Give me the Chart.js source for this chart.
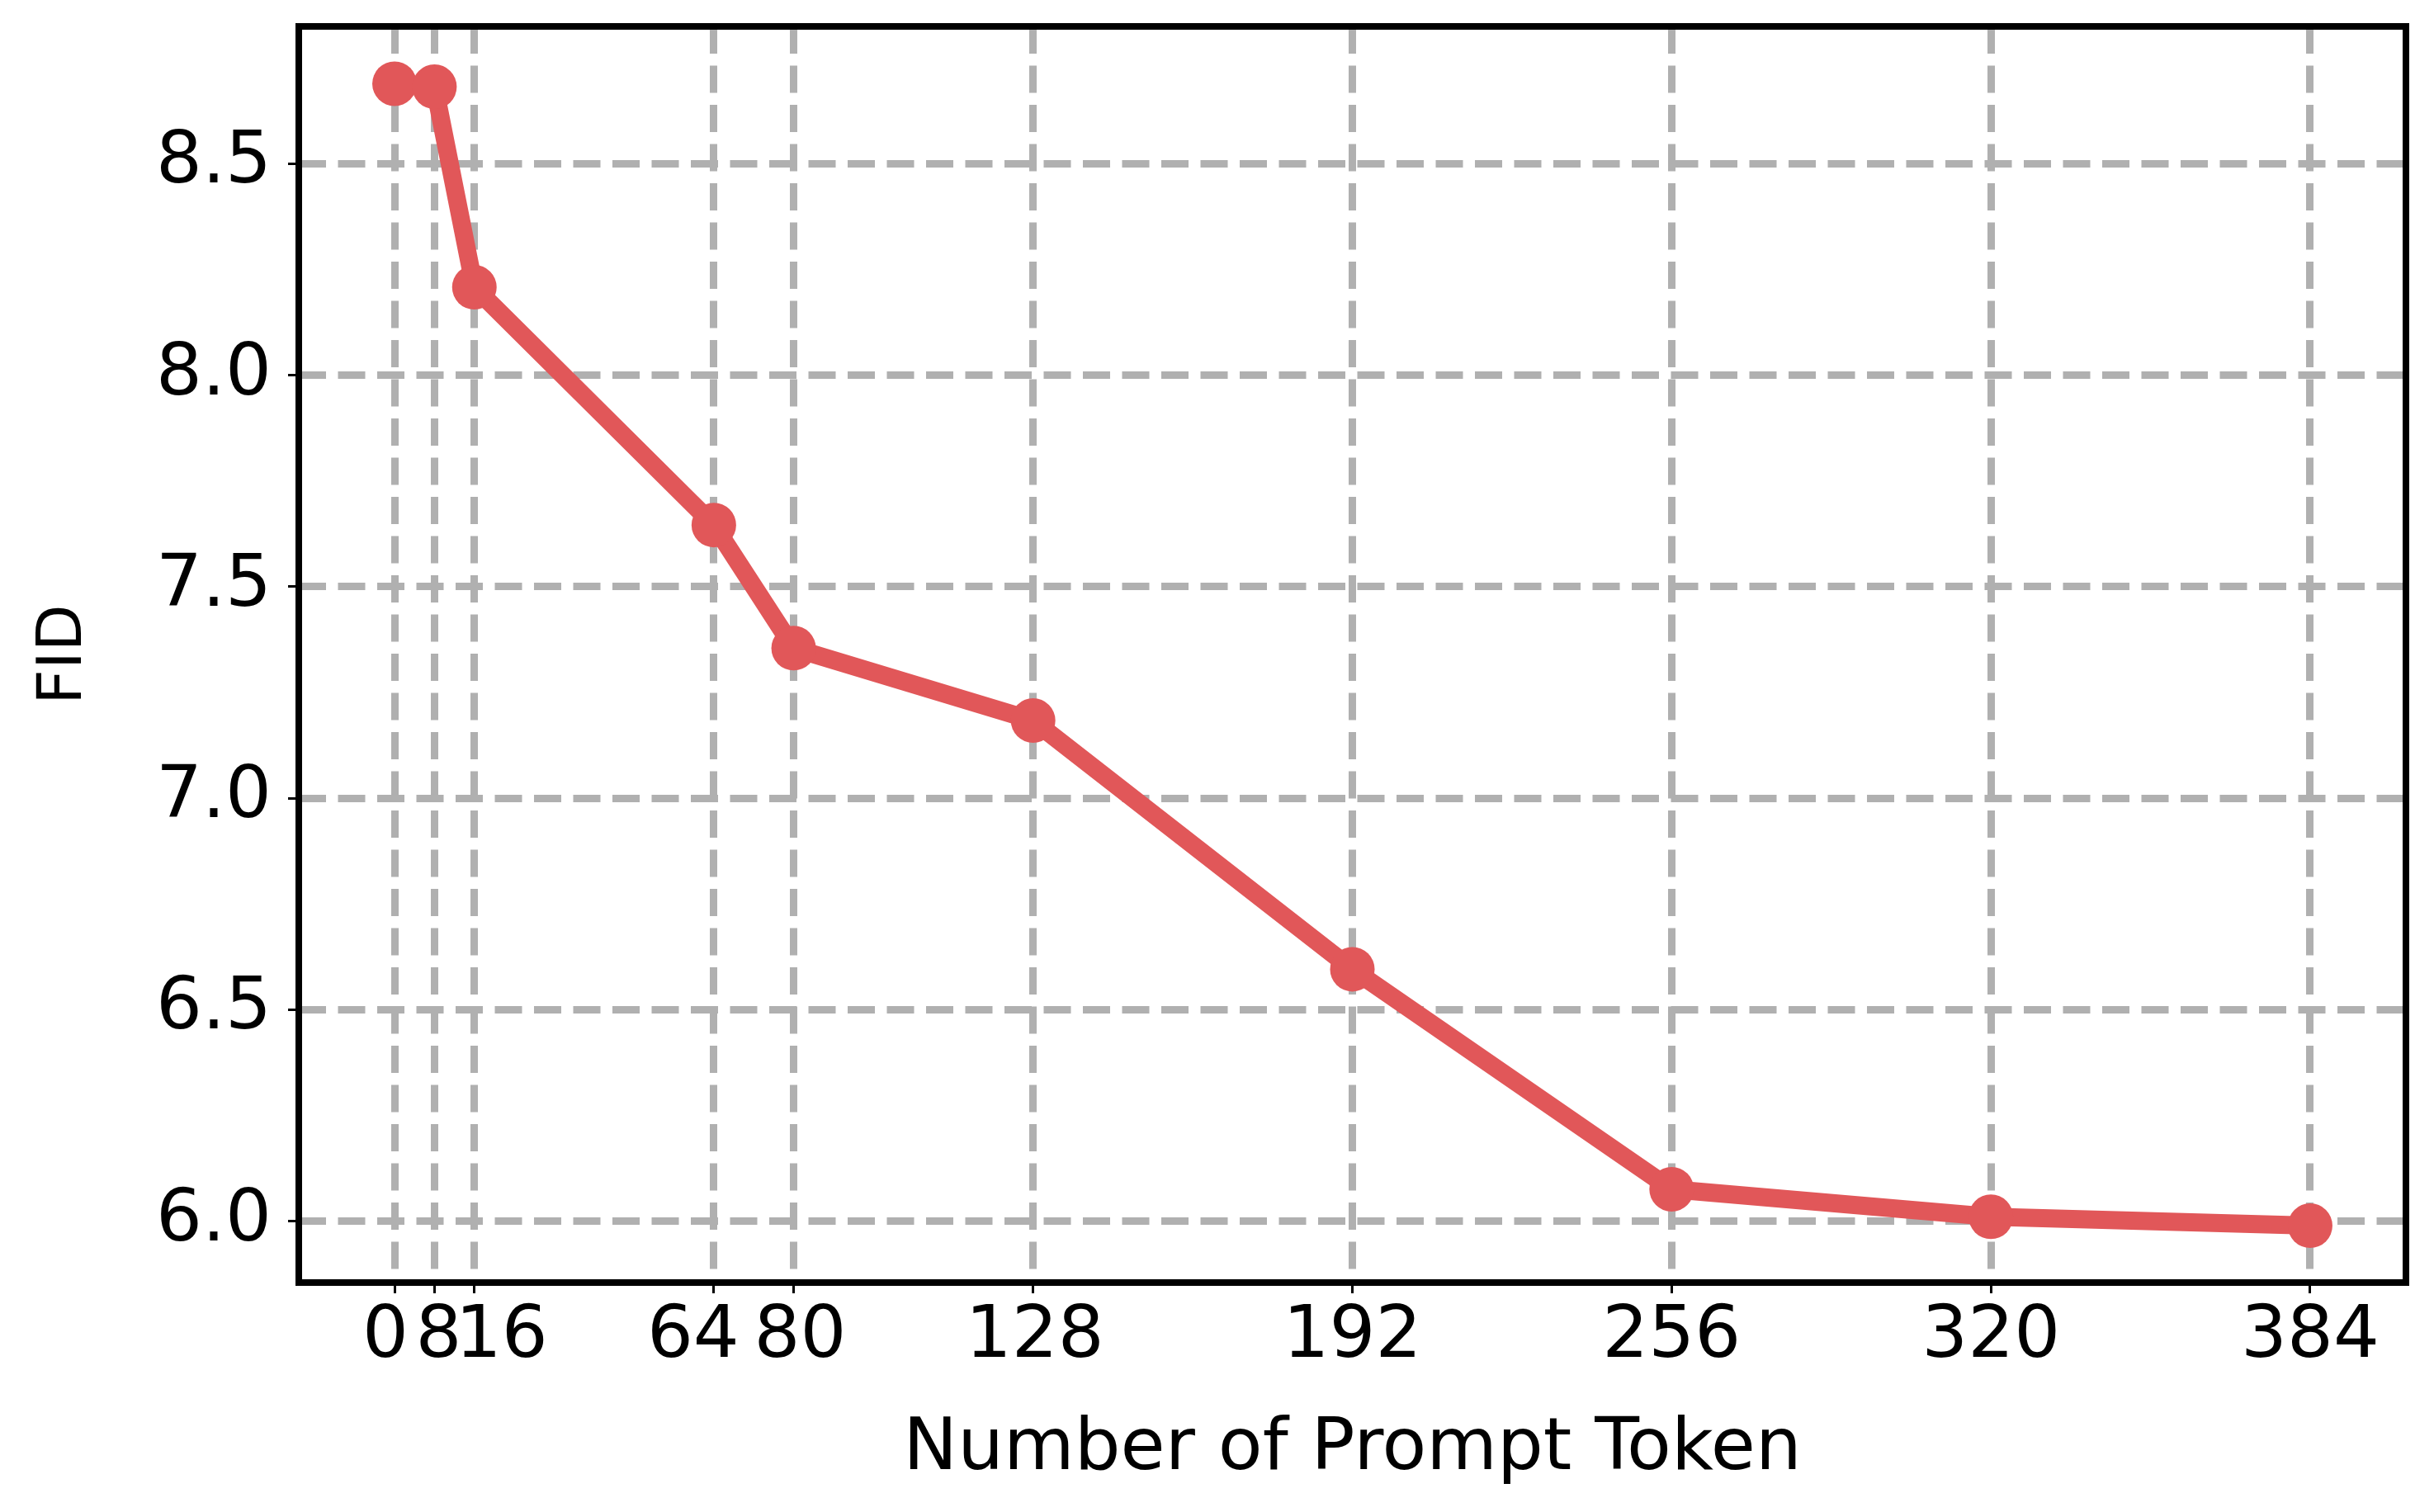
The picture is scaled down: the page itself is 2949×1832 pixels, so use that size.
<!DOCTYPE html>
<html>
<head>
<meta charset="utf-8">
<script src="https://cdn.jsdelivr.net/npm/chart.js@4/dist/chart.umd.min.js"></script>
<style>
  html, body { margin: 0; padding: 0; background: #ffffff; }
  #wrap { width: 2949px; height: 1832px; }
</style>
</head>
<body>
<div id="wrap"><canvas id="c" width="2949" height="1832"></canvas></div>
<script>
// ---- data ----
const promptTokens = [0, 8, 16, 64, 80, 128, 192, 256, 320, 384];
const fidValues = [8.689, 8.682, 8.208, 7.646, 7.355, 7.184, 6.596, 6.076, 6.011, 5.990];
const xTickValues = [0, 8, 16, 64, 80, 128, 192, 256, 320, 384];
const xTickLabels = ['0', '8', '16', '64', '80', '128', '192', '256', '320', '384'];
const yTickValues = [6.0, 6.5, 7.0, 7.5, 8.0, 8.5];
const xAxisTitle = 'Number of Prompt Token';
const yAxisTitle = 'FID';

// ---- style ----
// horizontal nudge (pixels) of crowded x tick labels, as in the original figure
const xLabelNudgePx = [-11, 5, 33, -25, 8, 2, 0, 0, 0, 0];
const lineColor = '#e15759';
const gridColor = '#b0b0b0';
const fontFamily = '"DejaVu Sans", sans-serif';
const X_MIN = -19.2, X_MAX = 403.2;

const framePlugin = {
  id: 'frame',
  afterDatasetsDraw(chart) {
    const a = chart.chartArea, ctx = chart.ctx;
    ctx.save();
    ctx.strokeStyle = '#000000';
    ctx.lineWidth = 8;
    ctx.setLineDash([]);
    ctx.lineJoin = 'miter';
    ctx.strokeRect(a.left, a.top, a.right - a.left, a.bottom - a.top);
    ctx.restore();
  }
};

function zeroPad(scale) {
  scale.paddingTop = 0; scale.paddingBottom = 0;
  scale.paddingLeft = 0; scale.paddingRight = 0;
}

new Chart(document.getElementById('c'), {
  type: 'line',
  data: {
    datasets: [{
      data: promptTokens.map((x, i) => ({ x: x, y: fidValues[i] })),
      borderColor: lineColor,
      backgroundColor: lineColor,
      borderWidth: 22,
      pointRadius: 27,
      pointBorderWidth: 0,
      pointBackgroundColor: lineColor,
      pointHoverRadius: 27,
      tension: 0,
      fill: false,
      clip: false,
      xAxisID: 'x',
      yAxisID: 'y'
    }]
  },
  options: {
    responsive: false,
    animation: false,
    devicePixelRatio: 1,
    layout: { padding: { top: 32, right: 34, left: 0, bottom: 0 } },
    plugins: { legend: { display: false }, tooltip: { enabled: false } },
    scales: {
      x: {
        type: 'linear',
        position: 'bottom',
        weight: 0,
        min: X_MIN,
        max: X_MAX,
        afterFit(scale) { scale.height = 13; zeroPad(scale); },
        afterBuildTicks(scale) { scale.ticks = xTickValues.map(v => ({ value: v })); },
        ticks: { display: false, autoSkip: false, maxRotation: 0, minRotation: 0 },
        grid: {
          color: gridColor,
          lineWidth: 9,
          drawTicks: true,
          tickLength: 13,
          tickColor: '#000000',
          tickWidth: 3,
          tickBorderDash: []
        },
        border: { display: false, dash: [33, 14.5] }
      },
      xLabels: {
        type: 'linear',
        position: 'bottom',
        weight: 1,
        min: X_MIN,
        max: X_MAX,
        afterFit(scale) { scale.height = 265; zeroPad(scale); },
        afterBuildTicks(scale) {
          const w = scale.width || 2553;
          const perPx = (X_MAX - X_MIN) / w;
          scale.ticks = xTickValues.map((v, i) => ({ value: v + xLabelNudgePx[i] * perPx }));
        },
        ticks: {
          autoSkip: false,
          maxRotation: 0,
          minRotation: 0,
          padding: 1,
          color: '#000000',
          font: { family: fontFamily, size: 88 },
          callback: (v, i) => xTickLabels[i]
        },
        grid: { display: false, drawTicks: false },
        border: { display: false },
        title: {
          display: true,
          text: xAxisTitle,
          color: '#000000',
          font: { family: fontFamily, size: 88 },
          padding: { top: 0, bottom: 22 }
        }
      },
      y: {
        type: 'linear',
        min: 5.8555,
        max: 8.8245,
        afterFit(scale) { scale.width = 362; zeroPad(scale); },
        afterBuildTicks(scale) { scale.ticks = yTickValues.map(v => ({ value: v })); },
        ticks: {
          autoSkip: false,
          padding: 20,
          color: '#000000',
          font: { family: fontFamily, size: 88 },
          callback: (v) => Number(v).toFixed(1)
        },
        grid: {
          color: gridColor,
          lineWidth: 9,
          drawTicks: true,
          tickLength: 13,
          tickColor: '#000000',
          tickWidth: 3,
          tickBorderDash: []
        },
        border: { display: false, dash: [33, 14.5] },
        title: {
          display: true,
          text: yAxisTitle,
          color: '#000000',
          font: { family: fontFamily, size: 74 },
          padding: { top: 34, bottom: 0 }
        }
      }
    }
  },
  plugins: [framePlugin]
});
</script>
</body>
</html>
